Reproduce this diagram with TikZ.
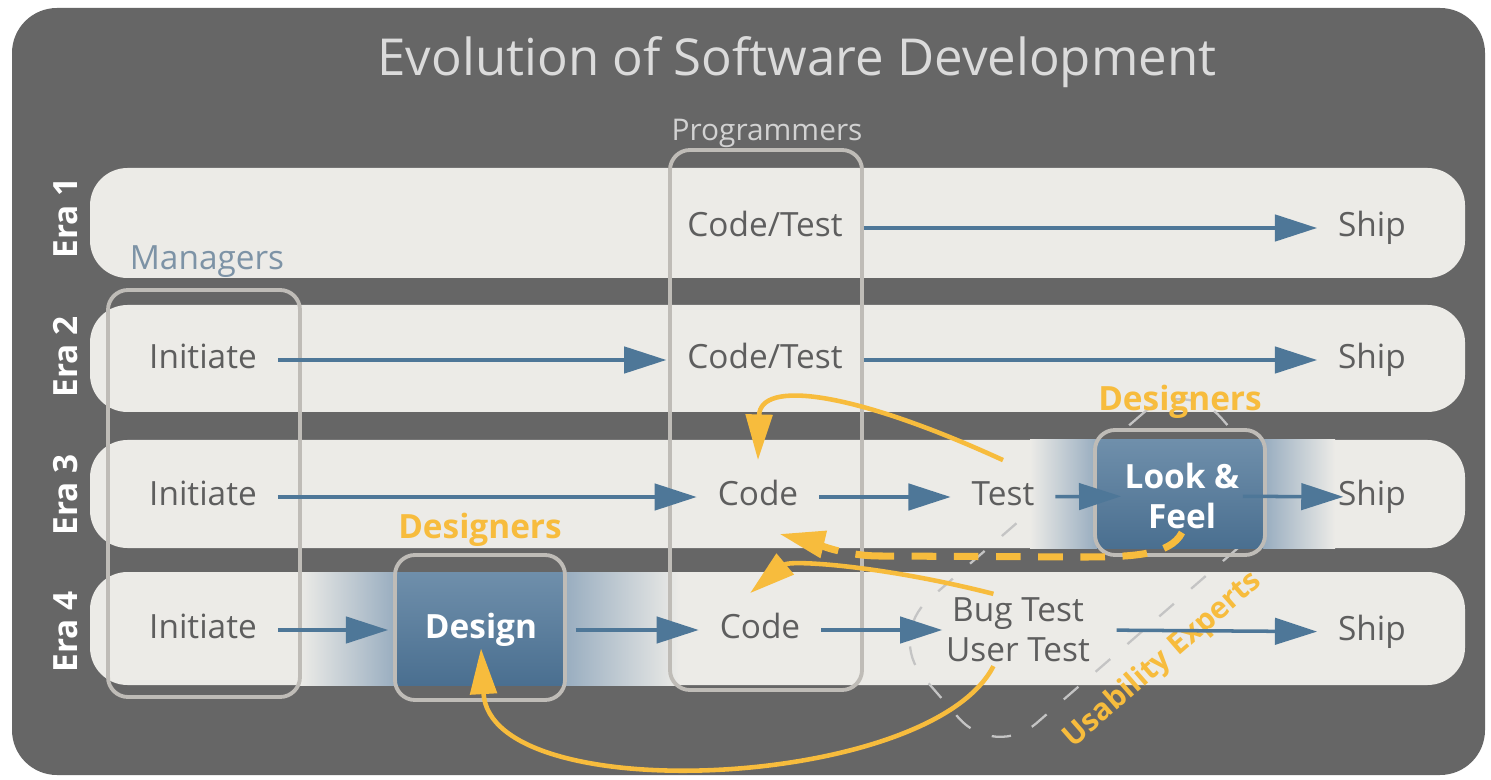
\documentclass[tikz,border=0pt]{standalone}
\usepackage{fontspec}
\setmainfont{Open Sans}
\setsansfont{Open Sans}
\usetikzlibrary{arrows.meta}
\definecolor{bgdark}{HTML}{666666}
\definecolor{bandc}{HTML}{ECEBE7}
\definecolor{boxline}{HTML}{BFBCB7}
\definecolor{txtgray}{HTML}{5E5E5E}
\definecolor{arrblue}{HTML}{4E7798}
\definecolor{orng}{HTML}{F7BC3D}
\definecolor{mgrc}{HTML}{7D93A6}
\definecolor{progc}{HTML}{D2D2D2}
\definecolor{dblue}{HTML}{4A6F90}
\definecolor{lblue}{HTML}{6F8FAB}
\definecolor{glowc}{HTML}{97ACBF}
\definecolor{dashg}{HTML}{C4C4C4}
\newcommand\mylblfont{\fontsize{19}{23}\selectfont}
\begin{document}
\begin{tikzpicture}[x=0.02cm,y=-0.02cm,
  lbl/.style={font=\mylblfont, text=txtgray, inner sep=2pt, outer sep=10pt, text height=14pt, text depth=4pt},
  wlbl/.style={font=\mylblfont\bfseries, text=white, inner sep=2pt, outer sep=0pt, align=center},
  eralbl/.style={font=\fontsize{19}{23}\selectfont\bfseries, text=white, rotate=90},
  deslbl/.style={font=\fontsize{19}{23}\selectfont\bfseries, text=orng},
  arr/.style={draw=arrblue, line width=2pt, -{Triangle[length=24pt,width=15pt]}},
  oarr/.style={draw=orng, line width=2.6pt, -{Triangle[length=26pt,width=15pt]}},
  grpbox/.style={draw=boxline, line width=2.2pt, rounded corners=0.4cm},
  bandstyle/.style={fill=bandc, rounded corners=0.75cm}
]
\useasboundingbox (0,0) rectangle (1491,780);
\fill[white] (0,0) rectangle (1491,780);
\fill[bgdark, rounded corners=0.9cm] (12,8) rectangle (1485,775);

% bands
\fill[bandstyle] (90,168) rectangle (1465,278);
\fill[bandstyle] (90,305) rectangle (1465,412);
\fill[bandstyle] (90,440) rectangle (1465,548);
\fill[bandstyle] (90,572) rectangle (1465,685);

% usability experts dashed region
\node[draw=dashg, line width=1.3pt, dash pattern=on 11pt off 13pt, rotate=41,
  minimum width=7.9cm, minimum height=3.28cm, rounded corners=1.1cm] (ux) at (1090,568) {};

% glows
\shade[left color=bandc, right color=glowc] (300,572) rectangle (397,685);
\shade[left color=glowc, right color=bandc] (563,572) rectangle (680,685);
\shade[left color=bandc, right color=glowc] (1030,440) rectangle (1097,548);
\shade[left color=glowc, right color=bandc] (1263,440) rectangle (1335,548);
% blue fills
\shade[top color=lblue, bottom color=dblue] (397,572) rectangle (563,685);
\shade[top color=lblue, bottom color=dblue] (1097,440) rectangle (1263,548);

% group boxes
\draw[grpbox] (108,290) rectangle (300,697);
\draw[grpbox] (670,150) rectangle (862,690);
\draw[grpbox] (395,555) rectangle (565,700);
\draw[grpbox] (1095,430) rectangle (1265,555);

% titles
\node[font=\fontsize{29}{33}\selectfont, text=progc!80!white] (title) at (797,62) {Evolution of Software Development};
\node[font=\fontsize{17}{20}\selectfont, text=progc] (progl) at (767,133) {Programmers};
\node[font=\mylblfont, text=mgrc] (mgrl) at (207,262) {Managers};
\node[deslbl] (desl4) at (480,530) {Designers};
\node[deslbl] (desl3) at (1180,402) {Designers};
\node[deslbl, font=\fontsize{17}{20}\selectfont\bfseries, rotate=41] (uxl) at (1163,660) {Usability Experts};

% era labels
\node[eralbl] (e1) at (66,218) {Era 1};
\node[eralbl] (e2) at (66,357) {Era 2};
\node[eralbl] (e3) at (66,495) {Era 3};
\node[eralbl] (e4) at (66,632) {Era 4};

% Era 1
\node[lbl] (ct1) at (765,228) {Code/Test};
\node[lbl] (ship1) at (1372,228) {Ship};
% Era 2
\node[lbl] (ini2) at (203,360) {Initiate};
\node[lbl] (ct2) at (765,360) {Code/Test};
\node[lbl] (ship2) at (1372,360) {Ship};
% Era 3
\node[lbl] (ini3) at (203,497) {Initiate};
\node[lbl] (code3) at (758,497) {Code};
\node[lbl] (test3) at (1003,497) {Test};
\node[wlbl] (lf) at (1182,496) {Look \&\\Feel};
\node[lbl] (ship3) at (1372,497) {Ship};
% Era 4
\node[lbl] (ini4) at (203,630) {Initiate};
\node[wlbl, inner sep=1pt] (design) at (481,630) {Design};
\node[lbl] (code4) at (760,630) {Code};
\node[font=\mylblfont, text=txtgray, inner sep=2pt, align=center] (bt) at (1018,630) {Bug Test\\User Test};
\node[lbl] (ship4) at (1372,632) {Ship};

% blue arrows
\draw[arr] (ct1) -- (ship1);
\draw[arr] (ini2) -- (ct2);
\draw[arr] (ct2) -- (ship2);
\draw[arr] (ini3) -- (code3);
\draw[arr] (code3) -- (test3);
\draw[arr] (test3) -- (lf);
\draw[arr, shorten >=-15pt] (lf) -- (ship3);
\draw[arr, shorten >=20pt] (ini4) -- (design);
\draw[arr, shorten <=21pt] (design) -- (code4);
\draw[arr] (code4) -- (bt);
\draw[arr, shorten <=13pt] (bt.east) -- (ship4);

% orange feedback arrows
\draw[oarr] (test3.north) .. controls (850,390) and (760,380) .. (code3.north);
\draw[oarr, -, line width=4pt, dash pattern=on 14pt off 10pt] (lf.south) .. controls (1170,556) and (1130,557) .. (1080,557) -- (880,556);
\draw[oarr, line width=4pt, dash pattern=on 14pt off 10pt] (880,556) .. controls (840,556) and (805,540) .. (code3.-60);
\draw[oarr] ([xshift=-14pt]bt.north) .. controls (880,565) and (790,560) .. (code4.105);
\draw[oarr] ([xshift=-14pt]bt.south) .. controls (930,790) and (490,810) .. (design.south);
\end{tikzpicture}
\end{document}
